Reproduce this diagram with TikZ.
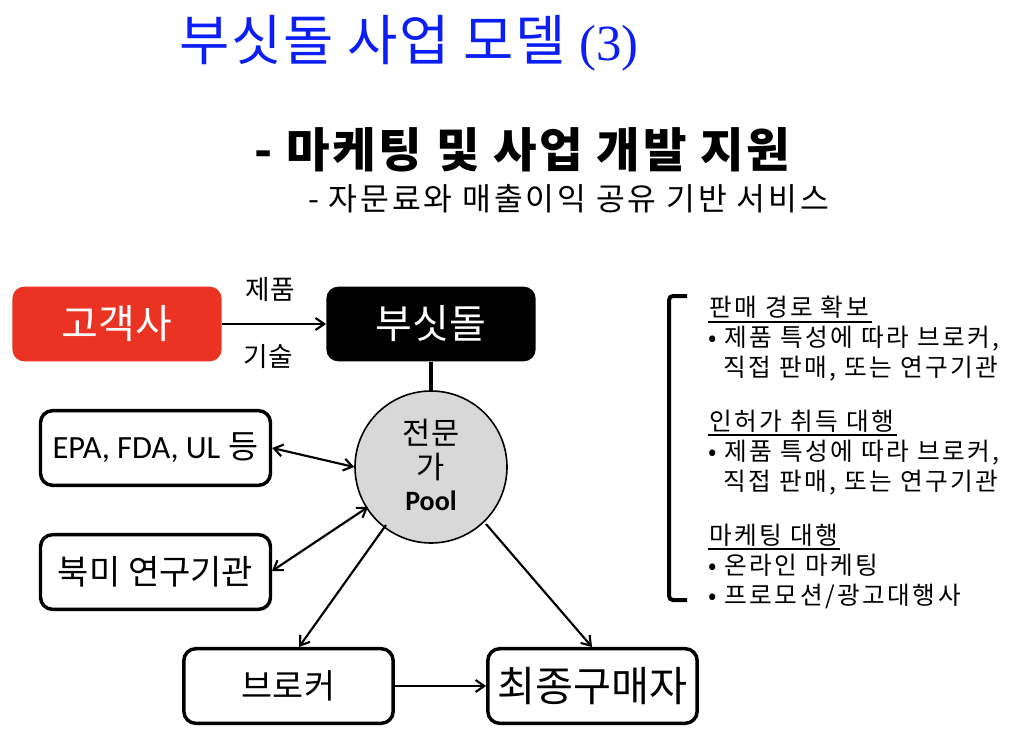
\documentclass[tikz,border=0pt]{standalone}
\usepackage{fontspec}
\setmainfont{Noto Sans CJK KR}
\newfontfamily\serifnum{Liberation Serif}
\newfontfamily\opensans{Carlito}
\usetikzlibrary{arrows.meta}
\newcommand{\fs}[1]{\fontsize{#1}{#1}\selectfont}
\newcommand{\lsp}[1]{\addfontfeatures{LetterSpace=#1}}
\definecolor{titleblue}{RGB}{10,30,245}
\definecolor{custred}{RGB}{234,51,35}
\definecolor{poolgray}{RGB}{216,216,216}
\tikzset{x=0.75pt,y=-0.75pt,
 boxw/.style={draw=black,line width=2.6pt,rounded corners=9pt,fill=white,minimum width=172.5pt,minimum height=56pt,inner sep=0pt,text=black},
 solidbox/.style={rounded corners=9pt,minimum width=157pt,minimum height=56pt,inner sep=0pt,text=white},
 arr/.style={draw=black,line width=1.6pt,-{Straight Barb[length=6.5pt,width=9pt]}},
 darr/.style={draw=black,line width=1.6pt,{Straight Barb[length=6.5pt,width=9pt]}-{Straight Barb[length=6.5pt,width=9pt]}},
 head/.style={inner sep=0pt,anchor=base west,font=\fs{18.5}\lsp{10}},
 txt/.style={inner sep=0pt,anchor=base west,font=\fs{18.5}\lsp{10}},
}
\begin{document}
\begin{tikzpicture}
\useasboundingbox (0,0) rectangle (1024,731);
\fill[white] (0,0) rectangle (1024,731);
% titles
\node[inner sep=0pt,anchor=base west,text=titleblue] (title) at (179,61) {\fs{41}\lsp{3}부싯돌 사업 모델 {\serifnum\fs{38}(3)}};
\node[inner sep=0pt,anchor=base west] (sub) at (254,168) {\fs{35.5}\lsp{6}\bfseries - 마케팅 및 사업 개발 지원};
\node[inner sep=0pt,anchor=base west] (subb) at (308,210) {\fs{23.5}\lsp{9}- 자문료와 매출이익 공유 기반 서비스};
% boxes
\node[solidbox,fill=custred] (cust) at (117,324) {\fs{30}\raisebox{-1.2pt}{고객사}};
\node[solidbox,fill=black] (bus) at (431,324) {\fs{30}\raisebox{-1.2pt}{부싯돌}};
\node[boxw] (epa) at (155.5,448) {{\opensans\fs{24.3}EPA, FDA, UL}\hspace{6pt}\fs{24.5}등};
\node[boxw] (na) at (155.5,572) {\fs{25.5}북미 연구기관};
\node[boxw,minimum width=157pt] (brk) at (288.5,686) {\fs{25.3}브로커};
\node[boxw,minimum width=157pt] (buyer) at (592.5,686) {\fs{31}최종구매자};
\node[circle,draw=black,line width=1.2pt,fill=poolgray,minimum size=114pt,inner sep=0pt] (pool) at (431,467) {};
\node[inner sep=0pt] (p1) at (431,433) {\fs{23}전문};
\node[inner sep=0pt] (p2) at (431,467) {\fs{23}가};
\node[inner sep=0pt] (p3) at (431,501) {\opensans\bfseries\fs{21}Pool};
% labels
\node[inner sep=0pt] (l1) at (270,290) {\fs{20}제품};
\node[inner sep=0pt] (l2) at (268,357) {\fs{20}기술};
% connectors
\draw[arr] (cust.east) -- (bus.west);
\draw[line width=2.6pt] (bus.south) -- (pool.north);
\draw[darr] (epa.east) -- (pool.west);
\coordinate (poolSW) at (368,507);
\coordinate (naE) at (272,571);
\draw[darr] (naE) -- (poolSW);
\coordinate (poolBL) at (386,525);
\coordinate (poolBR) at (486,524);
\coordinate (brkT) at (299,647);
\coordinate (buyerT) at (592,647);
\draw[arr] (poolBL) -- (brkT);
\draw[arr] (poolBR) -- (buyerT);
\draw[arr] (brk.east) -- (buyer.west);
% bracket
\coordinate (b1) at (687,296);
\coordinate (b2) at (687,600);
\draw[line width=3pt,rounded corners=3pt] (b1) -- (669,296) -- (669,600) -- (b2);
% list
\node[head] (h1) at (709,316) {판매 경로 확보};
\draw[line width=1pt] (708,322) -- (872,322);
\node[txt] (t1) at (708,346) {• 제품 특성에 따라 브로커,};
\node[txt] (t2) at (723,376) {직접 판매, 또는 연구기관};
\node[head] (h2) at (709,430) {인허가 취득 대행};
\draw[line width=1pt] (708,435) -- (897,435);
\node[txt] (t3) at (708,460) {• 제품 특성에 따라 브로커,};
\node[txt] (t4) at (723,490) {직접 판매, 또는 연구기관};
\node[head] (h3) at (709,544) {마케팅 대행};
\draw[line width=1pt] (708,549) -- (840,549);
\node[txt] (t5) at (708,574) {• 온라인 마케팅};
\node[txt] (t6) at (708,604) {• 프로모션/광고대행사};
\end{tikzpicture}
\end{document}
